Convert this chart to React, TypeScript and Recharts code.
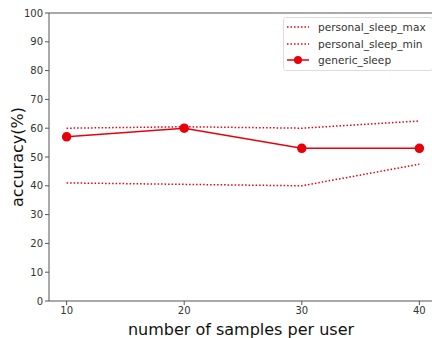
import { LineChart, Line, XAxis, YAxis, ReferenceLine } from "recharts";

const samples = [10, 20, 30, 40];
const personalMax = [60, 60.5, 60, 62.5];
const personalMin = [41, 40.5, 40, 47.5];
const genericSleep = [57, 60, 53, 53];
const yTicks = [0, 10, 20, 30, 40, 50, 60, 70, 80, 90, 100];

const RED = "#e8000b";
const AXIS = "#555";
const FONT = "DejaVu Sans, sans-serif";

const dados = samples.map((s, i) => ({
  s,
  max: personalMax[i],
  min: personalMin[i],
  generic: genericSleep[i],
}));

const itens = [
  { nome: "personal_sleep_max", pontilhado: true },
  { nome: "personal_sleep_min", pontilhado: true },
  { nome: "generic_sleep", pontilhado: false },
];

function Legenda() {
  return (
    <div
      style={{
        position: "absolute",
        left: 283,
        top: 17,
        width: 146,
        border: "1px solid #ddd",
        borderRadius: 3,
        background: "#fff",
        padding: "1px 0 1px 2px",
        fontFamily: FONT,
        fontSize: 10.6,
        color: "#333",
        whiteSpace: "nowrap",
      }}
    >
      {itens.map((it) => (
        <div key={it.nome} style={{ display: "flex", alignItems: "center", height: 16.5 }}>
          <svg width={28} height={10} style={{ marginRight: 4 }}>
            <line
              x1={1}
              x2={23}
              y1={5}
              y2={5}
              stroke={RED}
              strokeWidth={1.5}
              strokeDasharray={it.pontilhado ? "1.5 2" : undefined}
            />
            {!it.pontilhado && <circle cx={12} cy={5} r={4} fill={RED} />}
          </svg>
          <span>{it.nome}</span>
        </div>
      ))}
    </div>
  );
}

function RotuloY({ viewBox }: any) {
  const cy = viewBox.y + viewBox.height / 2;
  return (
    <text
      x={17}
      y={cy}
      transform={`rotate(-90, 17, ${cy})`}
      textAnchor="middle"
      dominantBaseline="central"
      fontSize={16}
      fill="#111"
      fontFamily={FONT}
    >
      accuracy(%)
    </text>
  );
}

export default function App() {
  return (
    <div
      style={{
        position: "absolute",
        left: 0,
        top: 0,
        width: 432,
        height: 338,
        overflow: "hidden",
        background: "#fff",
      }}
    >
      <LineChart width={440} height={338} data={dados} margin={{ top: 13, right: 3, bottom: 0, left: 0 }}>
        <XAxis
          dataKey="s"
          type="number"
          domain={[8.5, 41.5]}
          ticks={samples}
          stroke={AXIS}
          tickSize={4}
          tick={{ fontSize: 10, fill: "#333", fontFamily: FONT }}
          height={37}
          label={{
            value: "number of samples per user",
            position: "insideBottom",
            offset: 3,
            fontSize: 16,
            fill: "#111",
            fontFamily: FONT,
            dx: -2,
          }}
        />
        <YAxis
          type="number"
          domain={[0, 100]}
          ticks={yTicks}
          stroke={AXIS}
          tickSize={4}
          width={49}
          tick={{ fontSize: 10, fill: "#333", fontFamily: FONT }}
          label={<RotuloY />}
        />
        <ReferenceLine y={100} stroke={AXIS} />
        <ReferenceLine x={41.5} stroke={AXIS} />
        <Line
          dataKey="max"
          stroke={RED}
          strokeWidth={1.5}
          strokeDasharray="1.5 2"
          dot={false}
          isAnimationActive={false}
        />
        <Line
          dataKey="min"
          stroke={RED}
          strokeWidth={1.5}
          strokeDasharray="1.5 2"
          dot={false}
          isAnimationActive={false}
        />
        <Line
          dataKey="generic"
          stroke={RED}
          strokeWidth={1.5}
          dot={{ r: 4, fill: RED, stroke: RED }}
          isAnimationActive={false}
        />
      </LineChart>
      <Legenda />
    </div>
  );
}
